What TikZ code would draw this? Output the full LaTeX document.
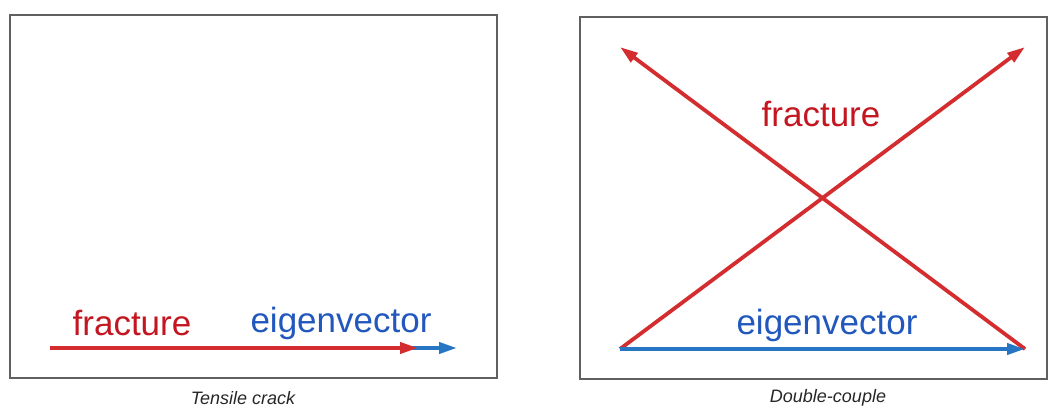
\documentclass[tikz,border=0pt]{standalone}
\usepackage{fontspec}
\setmainfont{Liberation Sans}
\usetikzlibrary{arrows.meta}
\definecolor{fracred}{RGB}{212,45,48}
\definecolor{fractext}{RGB}{196,22,32}
\definecolor{eigblue}{RGB}{38,118,196}
\definecolor{eigtext}{RGB}{34,88,190}
\tikzset{
  panel/.style={draw=gray!75!black, line width=1.3pt},
  frac/.style={-{Triangle[length=18pt,width=11pt]}, fracred, line width=3.8pt},
  eig/.style={-{Triangle[length=18pt,width=11pt]}, eigblue, line width=3.8pt},
  bigred/.style={text=fractext, font=\fontsize{35}{40}\selectfont, inner sep=0pt},
  bigblue/.style={text=eigtext, font=\fontsize{35}{40}\selectfont, inner sep=0pt},
  captext/.style={font=\fontsize{18}{20}\selectfont\itshape, text=black!85, inner sep=0pt}
}
\begin{document}
\begin{tikzpicture}[x=1pt, y=1pt]
\useasboundingbox (0,0) rectangle (1055,407);
% left panel: tensile crack
\node[panel, minimum width=487pt, minimum height=363pt, inner sep=0pt] (boxa) at (253.5,210.5) {};
\coordinate (a0) at (50,59);
\coordinate (a1) at (418,59);
\coordinate (a2) at (457,59);
\draw[eig] (400,59) -- (a2);
\draw[frac] (a0) -- (a1);
\node[bigred] (fraca) at (132,84) {fracture};
\node[bigblue] (eiga) at (341,84) {eigenvector};
\node[captext] (capa) at (243,9) {Tensile crack};
% right panel: double-couple
\node[panel, minimum width=467pt, minimum height=362pt, inner sep=0pt] (boxb) at (813.5,209) {};
\coordinate (bl) at (620,58);
\coordinate (br) at (1025,58);
\coordinate (tl) at (620,360);
\coordinate (tr) at (1025,360);
\draw[frac] (bl) -- (tr);
\draw[frac] (br) -- (tl);
\draw[eig] (bl) -- (br);
\node[bigred] (fracb) at (821,293) {fracture};
\node[bigblue] (eigb) at (827,82) {eigenvector};
\node[captext] (capb) at (828,9) {Double-couple};
\end{tikzpicture}
\end{document}
